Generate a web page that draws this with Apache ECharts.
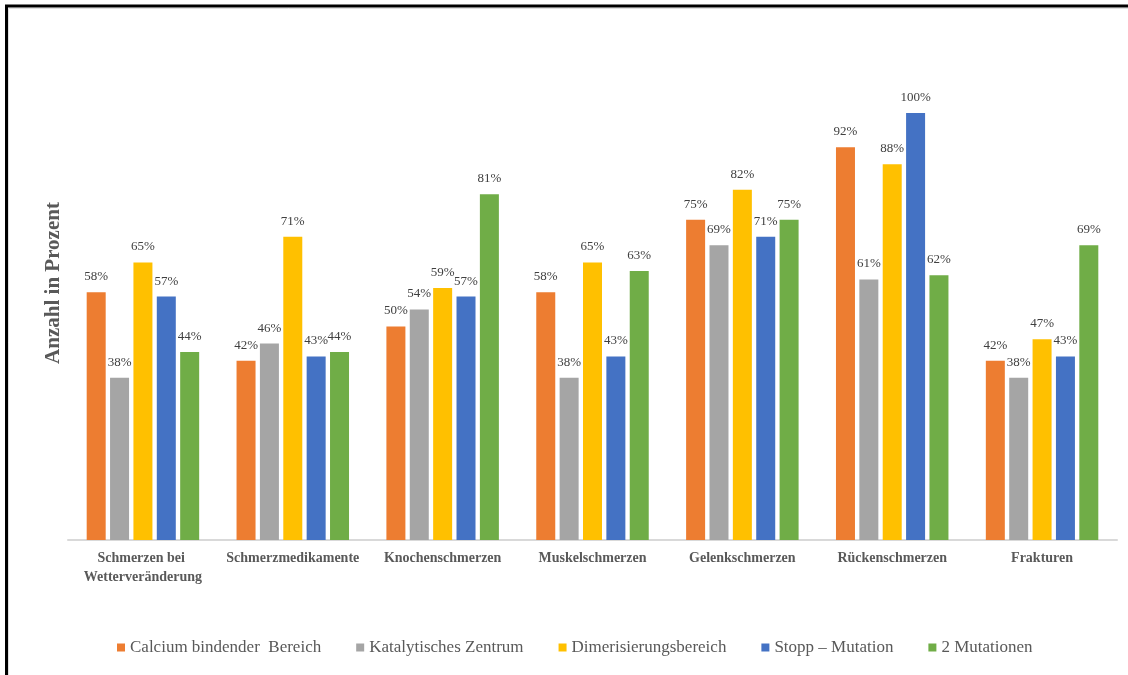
<!DOCTYPE html>
<html>
<head>
<meta charset="utf-8">
<script src="https://cdn.jsdelivr.net/npm/echarts@6/dist/echarts.min.js"></script>
<style>
  html, body { margin: 0; padding: 0; background: #ffffff; }
  #chart { width: 1128px; height: 675px; }
</style>
</head>
<body>
<div id="chart"></div>
<script>
// Pain categories along the x axis
const categories = [
  'Schmerzen bei Wetterveränderung',
  'Schmerzmedikamente',
  'Knochenschmerzen',
  'Muskelschmerzen',
  'Gelenkschmerzen',
  'Rückenschmerzen',
  'Frakturen'
];

// Share (%) per mutation region
const calciumBindend   = [58, 42, 50, 58, 75, 92, 42];
const katalytisch      = [38, 46, 54, 38, 69, 61, 38];
const dimerisierung    = [65, 71, 59, 65, 82, 88, 47];
const stoppMutation    = [57, 43, 57, 43, 71, 100, 43];
const zweiMutationen   = [44, 44, 81, 63, 75, 62, 69];

const seriesNames = [
  'Calcium bindender  Bereich',
  'Katalytisches Zentrum',
  'Dimerisierungsbereich',
  'Stopp – Mutation',
  '2 Mutationen'
];
const seriesData = [calciumBindend, katalytisch, dimerisierung, stoppMutation, zweiMutationen];
const colors = ['#ED7D31', '#A5A5A5', '#FFC000', '#4472C4', '#70AD47'];

const serif = '"Liberation Serif", "Times New Roman", serif';

const chart = echarts.init(document.getElementById('chart'), null, { renderer: 'canvas' });

chart.setOption({
  animation: false,
  backgroundColor: '#ffffff',
  color: colors,
  grid: { left: 68, right: 11, top: 113, bottom: 135, containLabel: false },
  legend: {
    left: 117,
    top: 639,
    padding: 0,
    itemWidth: 8,
    itemHeight: 8,
    itemGap: 35,
    icon: 'rect',
    textStyle: { fontFamily: serif, fontSize: 17, color: '#595959' },
    data: seriesNames
  },
  xAxis: {
    type: 'category',
    data: categories,
    axisLine: { lineStyle: { color: '#D9D9D9', width: 2 } },
    axisTick: { show: false },
    axisLabel: {
      interval: 0,
      margin: 9,
      width: 148,
      overflow: 'break',
      lineHeight: 19,
      fontFamily: serif,
      fontWeight: 'bold',
      fontSize: 14,
      color: '#595959'
    }
  },
  yAxis: {
    type: 'value',
    min: 0,
    max: 100,
    show: false,
    splitLine: { show: false }
  },
  graphic: [
    {
      type: 'rect',
      shape: { x: 6.5, y: 6, width: 1300, height: 800 },
      style: { fill: 'none', stroke: '#000000', lineWidth: 3 },
      silent: true
    },
    {
      type: 'rect',
      shape: { x: 8.5, y: 8.5, width: 1300, height: 800 },
      style: { fill: 'none', stroke: '#E0E0E0', lineWidth: 1 },
      silent: true
    },
    {
      type: 'text',
      x: 54,
      y: 283,
      rotation: Math.PI / 2,
      style: {
        text: 'Anzahl in Prozent',
        font: 'bold 21px ' + serif,
        fill: '#595959',
        align: 'center',
        verticalAlign: 'middle'
      }
    }
  ],
  series: seriesNames.map((name, i) => ({
    name: name,
    type: 'bar',
    data: seriesData[i],
    barWidth: 19,
    barGap: '23%',
    itemStyle: { color: colors[i] },
    label: {
      show: true,
      position: 'top',
      distance: 9,
      formatter: '{c}%',
      fontFamily: serif,
      fontSize: 13,
      color: '#404040'
    }
  }))
});
</script>
</body>
</html>
